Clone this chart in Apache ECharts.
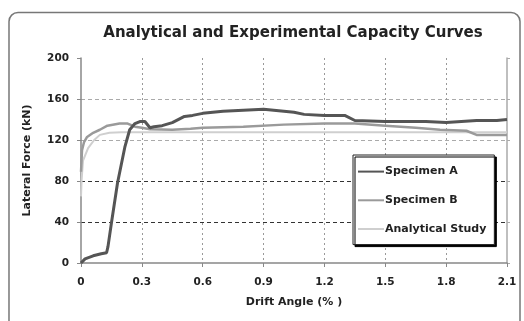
<!DOCTYPE html>
<html>
<head>
<meta charset="utf-8">
<script src="https://cdn.jsdelivr.net/npm/echarts@6/dist/echarts.min.js"></script>
<style>html,body{margin:0;padding:0;background:#fff;}#c{width:524px;height:321px;}</style>
</head>
<body>
<div id="c"></div>
<script>
var titleText = "Analytical and Experimental Capacity Curves";
var xName = "Drift Angle (% )";
var yName = "Lateral Force (kN)";
var seriesNames = ["Specimen A", "Specimen B", "Analytical Study"];

var aX = [0, 0.02, 0.06, 0.1, 0.126, 0.133, 0.15, 0.18, 0.216, 0.24, 0.266, 0.29, 0.315, 0.34, 0.36, 0.4, 0.45, 0.51, 0.55, 0.6, 0.7, 0.8, 0.9, 1.0, 1.05, 1.1, 1.2, 1.3, 1.35, 1.5, 1.7, 1.8, 1.95, 2.05, 2.1];
var aY = [0, 4, 7, 9, 10, 16, 39, 78, 113, 130, 136, 138, 138, 132, 133, 134, 137, 143, 144, 146, 148, 149, 150, 148, 147, 145, 144, 144, 139, 138, 138, 137, 139, 139, 140];

var bX = [0, 0.005, 0.015, 0.03, 0.06, 0.093, 0.13, 0.19, 0.23, 0.266, 0.3, 0.34, 0.45, 0.54, 0.6, 0.8, 1.0, 1.2, 1.35, 1.5, 1.65, 1.77, 1.9, 1.95, 2.1];
var bY = [89, 110, 118, 123, 127, 130, 134, 136, 136, 133, 132, 130.5, 130, 131, 132, 133, 135, 136, 136, 134, 132, 130, 129, 125, 125];

var cX = [0, 0.003, 0.01, 0.035, 0.065, 0.093, 0.14, 0.2, 0.4, 1.0, 2.1];
var cY = [65, 81, 100, 112, 120, 125, 127, 127.5, 127.5, 127.5, 127.5];

function pairs(xs, ys) { return xs.map(function (x, i) { return [x, ys[i]]; }); }

var FONT = 'DejaVu Sans';
var chart = echarts.init(document.getElementById('c'), null, {renderer: 'canvas'});
var lblFont = {fontFamily: FONT, fontWeight: 'bold', fontSize: 10.5, color: '#222'};
chart.setOption({
  animation: false,
  backgroundColor: '#fff',
  title: {
    text: titleText, left: 288, textAlign: 'center', top: 21,
    textStyle: {fontFamily: FONT, fontWeight: 'bold', fontSize: 15, color: '#222'}
  },
  graphic: [{
    type: 'rect', shape: {x: 9, y: 12.5, width: 511, height: 330, r: 9},
    style: {fill: 'none', stroke: '#777', lineWidth: 1.5}, z: -1
  }],
  grid: {left: 81, right: 17, top: 58, bottom: 58},
  legend: {
    orient: 'vertical', left: 353, top: 155,
    padding: [11, 8, 10, 4], itemGap: 17.5, itemWidth: 26, itemHeight: 14,
    backgroundColor: '#fff', borderColor: '#222', borderWidth: 1,
    shadowColor: '#000', shadowBlur: 0, shadowOffsetX: 2, shadowOffsetY: 2,
    itemStyle: {opacity: 0},
    textStyle: {fontFamily: FONT, fontWeight: 'bold', fontSize: 11, color: '#222', padding: [0, 0, 0, -4]},
    data: seriesNames
  },
  xAxis: {
    type: 'value', min: 0, max: 2.1, interval: 0.3,
    name: xName, nameLocation: 'middle', nameGap: 34,
    nameTextStyle: {fontFamily: FONT, fontWeight: 'bold', fontSize: 11, color: '#222'},
    axisLine: {show: true, lineStyle: {color: '#888', width: 1.5}},
    axisTick: {show: true, length: 4, lineStyle: {color: '#888'}},
    axisLabel: Object.assign({margin: 14, formatter: function (v) { return v === 0 ? '0' : v.toFixed(1); }}, lblFont),
    splitLine: {show: true, showMinLine: false, showMaxLine: false, lineStyle: {color: '#999', type: [2, 3], width: 1}}
  },
  yAxis: [{
    type: 'value', min: 0, max: 200, interval: 40,
    name: yName, nameLocation: 'middle', nameGap: 48, nameRotate: 90,
    nameTextStyle: {fontFamily: FONT, fontWeight: 'bold', fontSize: 11, color: '#222'},
    axisLine: {show: true, lineStyle: {color: '#888', width: 1.5}},
    axisTick: {show: true, length: 4, lineStyle: {color: '#888'}},
    axisLabel: Object.assign({margin: 12}, lblFont),
    splitLine: {show: true, showMinLine: false, showMaxLine: false,
      lineStyle: {color: ['#333', '#333', '#aaa', '#aaa', '#aaa'], type: [4, 3], width: 1}}
  }, {
    type: 'value', min: 0, max: 200, interval: 40, position: 'right',
    axisLine: {show: true, lineStyle: {color: '#aaa', width: 1.5}},
    axisTick: {show: true, inside: false, length: 3, lineStyle: {color: '#aaa'}},
    axisLabel: {show: false}, splitLine: {show: false}
  }],
  series: [
    {name: seriesNames[0], type: 'line', data: pairs(aX, aY), symbol: 'none', lineStyle: {color: '#555', width: 3}, itemStyle: {color: '#555'}, z: 4},
    {name: seriesNames[1], type: 'line', data: pairs(bX, bY), symbol: 'none', lineStyle: {color: '#9a9a9a', width: 2.5}, itemStyle: {color: '#9a9a9a'}, z: 3},
    {name: seriesNames[2], type: 'line', data: pairs(cX, cY), symbol: 'none', lineStyle: {color: '#cfcfcf', width: 2}, itemStyle: {color: '#cfcfcf'}, z: 2}
  ]
});
</script>
</body>
</html>
